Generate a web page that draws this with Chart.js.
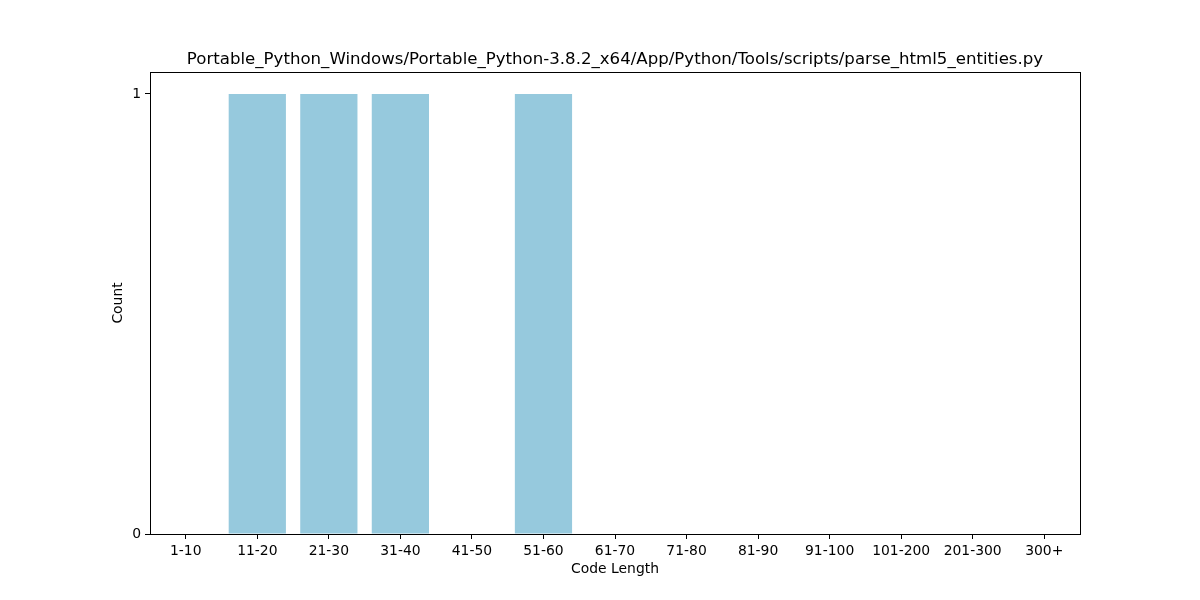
<!DOCTYPE html>
<html>
<head>
<meta charset="utf-8">
<script src="https://cdn.jsdelivr.net/npm/chart.js@4/dist/chart.umd.min.js"></script>
<style>
  html, body { margin: 0; padding: 0; background: #fff; }
  #chart { display: block; }
</style>
</head>
<body>
<canvas id="chart" width="1200" height="600"></canvas>
<script>
// chart data
const categories = ['1-10', '11-20', '21-30', '31-40', '41-50', '51-60', '61-70', '71-80', '81-90', '91-100', '101-200', '201-300', '300+'];
const counts = [0, 1, 1, 1, 0, 1, 0, 0, 0, 0, 0, 0, 0];
const yTicks = [0, 1];
const chartTitle = 'Portable_Python_Windows/Portable_Python-3.8.2_x64/App/Python/Tools/scripts/parse_html5_entities.py';

const FONT = 'DejaVu Sans';

// draws the full box around the plot area, like matplotlib spines
const frame = {
    id: 'frame',
    afterDatasetsDraw(chart){
        const a = chart.chartArea;
        const c = chart.ctx;
        c.save();
        c.strokeStyle = '#000';
        c.lineWidth = 1;
        c.strokeRect(Math.round(a.left) + 0.5, Math.round(a.top) + 0.5, Math.round(a.right - a.left), Math.round(a.bottom - a.top));
        c.restore();
    }
};

new Chart(document.getElementById('chart'), {
    type: 'bar',
    data: {
        labels: categories,
        datasets: [{
            label: 'Count',
            data: counts,
            backgroundColor: '#96c9dd',
            borderWidth: 0,
            barPercentage: 0.8,
            categoryPercentage: 1.0
        }]
    },
    options: {
        responsive: false,
        animation: false,
        layout: { padding: { left: 0, right: 120, top: 0, bottom: 0 } },
        plugins: {
            legend: { display: false },
            tooltip: { enabled: false },
            title: {
                display: true,
                text: chartTitle,
                fullSize: false,
                color: '#000',
                font: { family: FONT, size: 16.6, weight: 'normal', lineHeight: 1.2 },
                padding: { top: 50, bottom: 2 }
            }
        },
        scales: {
            x: {
                offset: true,
                grid: { display: true, offset: false, drawOnChartArea: false, drawTicks: true, tickLength: 5, tickColor: '#000', tickWidth: 1 },
                border: { display: false },
                ticks: { color: '#000', padding: 4, maxRotation: 0, autoSkip: false, font: { family: FONT, size: 13.9 } },
                title: { display: true, text: 'Code Length', color: '#000', font: { family: FONT, size: 13.9, lineHeight: 1.2 }, padding: { top: 0, bottom: 22 } },
                afterFit(scale){ scale.height = 66; }
            },
            y: {
                min: 0,
                max: 1.05,
                afterBuildTicks(scale){ scale.ticks = yTicks.map(v => ({ value: v })); },
                grid: { display: true, drawOnChartArea: false, drawTicks: true, tickLength: 5, tickColor: '#000', tickWidth: 1 },
                border: { display: false },
                ticks: { color: '#000', padding: 4, font: { family: FONT, size: 13.9 } },
                title: { display: true, text: 'Count', color: '#000', font: { family: FONT, size: 13.9, lineHeight: 1.2 }, padding: { top: 110, bottom: 0 } },
                afterFit(scale){ scale.width = 150; }
            }
        }
    },
    plugins: [frame]
});
</script>
</body>
</html>
